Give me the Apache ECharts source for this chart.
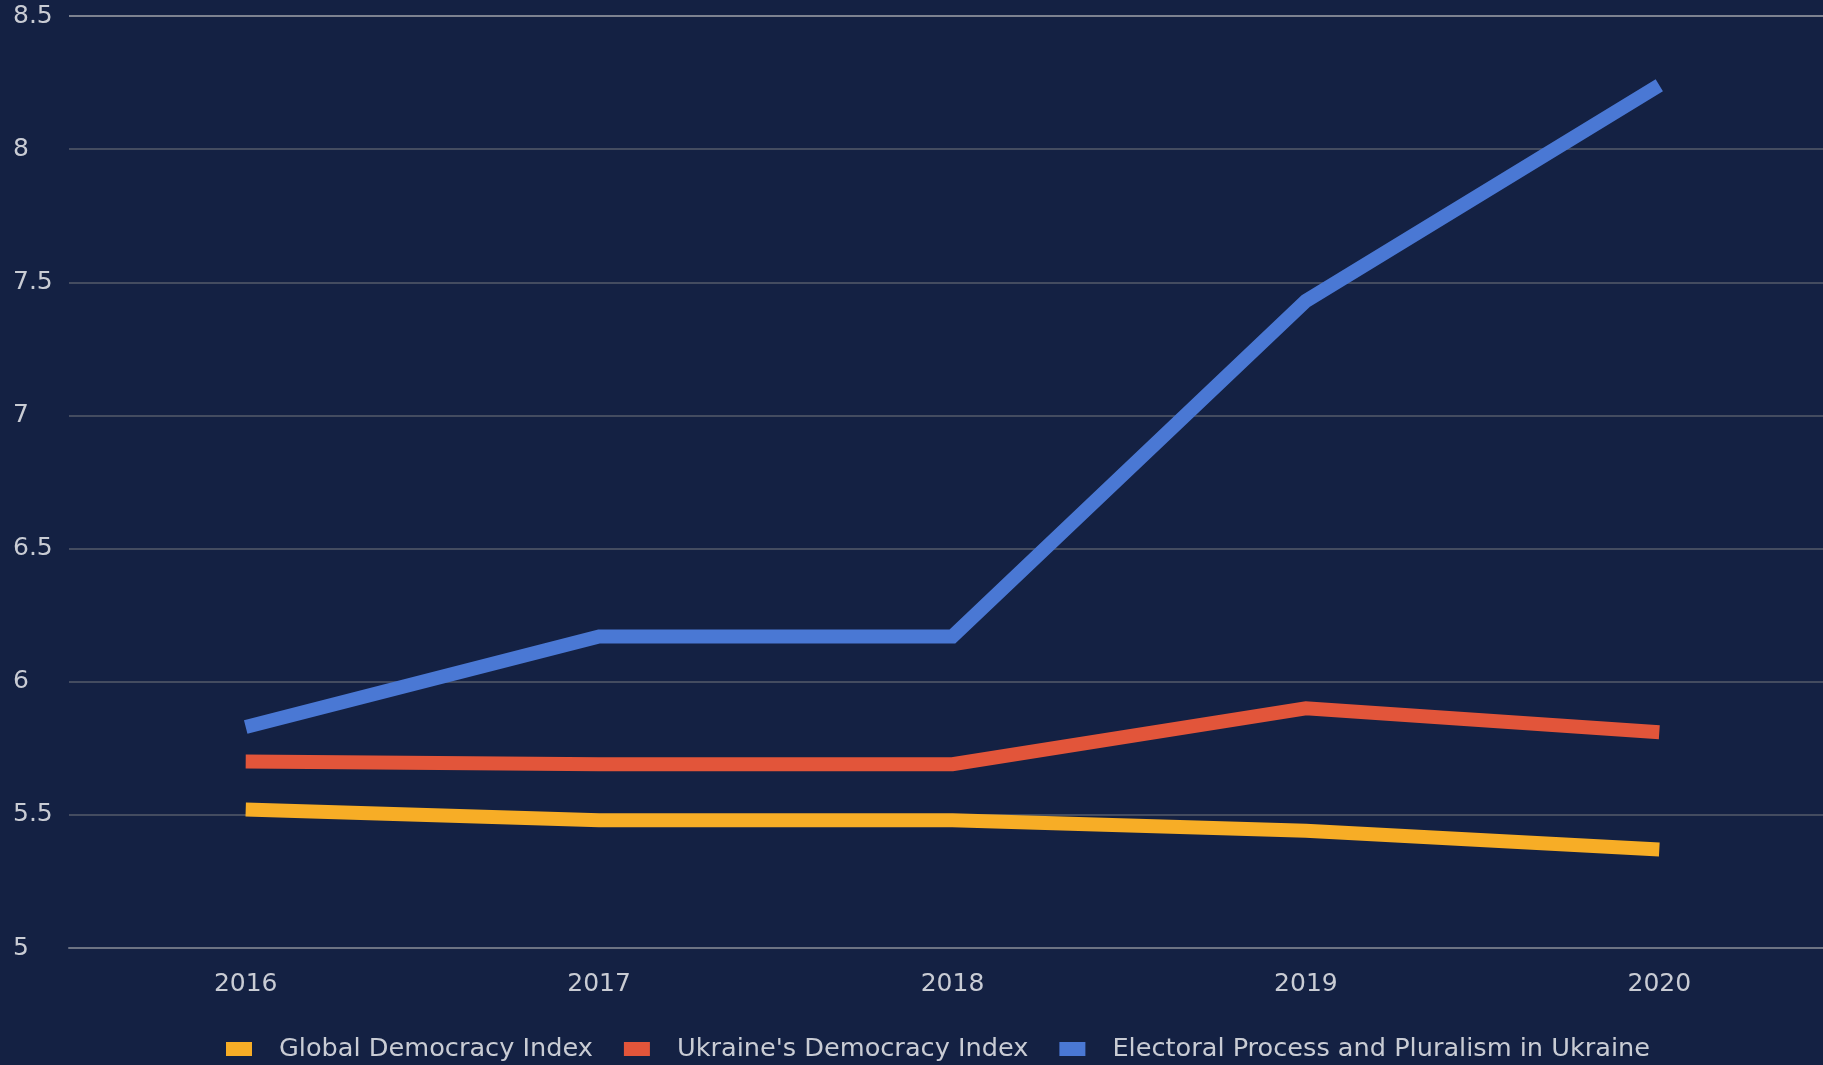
<!DOCTYPE html>
<html>
<head>
<meta charset="utf-8">
<title>Democracy Index</title>
<script src="https://cdn.jsdelivr.net/npm/echarts@6/dist/echarts.min.js"></script>
<style>
  html, body { margin: 0; padding: 0; background: #142143; }
  #chart { width: 1823px; height: 1065px; }
</style>
</head>
<body>
<div id="chart"></div>
<script>
'use strict';

/* ── Data ── */
const years = ['2016', '2017', '2018', '2019', '2020'];
const globalIndex = [5.52, 5.48, 5.48, 5.44, 5.37];
const ukraineIndex = [5.70, 5.69, 5.69, 5.90, 5.81];
const electoralUkraine = [5.83, 6.17, 6.17, 7.43, 8.24];

const seriesNames = [
  'Global Democracy Index',
  "Ukraine's Democracy Index",
  'Electoral Process and Pluralism in Ukraine'
];

/* ── Style ── */
const FONT = "'DejaVu Sans', sans-serif";
const TEXT = '#c9ccd4';
const COLORS = ['#f7ad26', '#e2553a', '#4a78d4'];

const chart = echarts.init(document.getElementById('chart'), null, { renderer: 'canvas' });

function lineSeries(name, data, color) {
  return {
    name: name,
    type: 'line',
    data: data,
    showSymbol: false,
    symbol: 'rect',
    lineStyle: { color: color, width: 14, cap: 'butt', join: 'miter' },
    itemStyle: { color: color },
    emphasis: { disabled: true }
  };
}

chart.setOption({
  backgroundColor: '#142143',
  animation: false,
  textStyle: { fontFamily: FONT },
  color: COLORS,
  grid: {
    left: 69, width: 1767, top: 16, bottom: 117,
    containLabel: false, outerBoundsMode: 'none'
  },
  legend: {
    top: 1031,
    left: 221,
    itemWidth: 26,
    itemHeight: 14,
    itemGap: 31,
    icon: 'rect',
    textStyle: { color: TEXT, fontSize: 25.6, fontFamily: FONT, padding: [0, 0, 0, 22] },
    data: seriesNames
  },
  xAxis: {
    type: 'category',
    data: years,
    boundaryGap: true,
    axisLine: { show: true, lineStyle: { color: '#6d7383', width: 2 } },
    axisTick: { show: false },
    axisLabel: { color: TEXT, fontSize: 25, margin: 24 }
  },
  yAxis: {
    type: 'value',
    min: 5,
    max: 8.5,
    interval: 0.5,
    axisLine: { show: false },
    axisTick: { show: false },
    axisLabel: { color: TEXT, fontSize: 25, align: 'left', margin: 56, padding: [10, 0, 0, 0] },
    splitLine: {
      lineStyle: {
        color: ['#6d7383', '#444c60', '#444c60', '#444c60', '#444c60', '#444c60', '#444c60', '#7d8290'],
        width: 2
      }
    }
  },
  series: [
    lineSeries(seriesNames[0], globalIndex, COLORS[0]),
    lineSeries(seriesNames[1], ukraineIndex, COLORS[1]),
    lineSeries(seriesNames[2], electoralUkraine, COLORS[2])
  ]
});

window.addEventListener('resize', () => chart.resize());
</script>
</body>
</html>
